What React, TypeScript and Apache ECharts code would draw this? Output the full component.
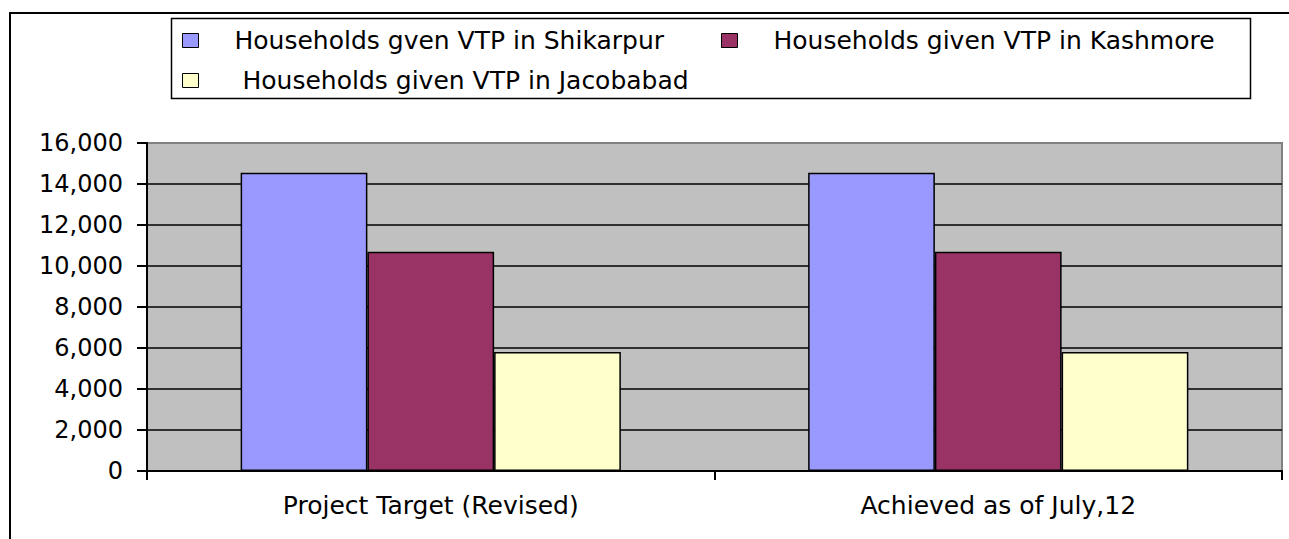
import React, { useEffect, useRef } from "react";
import * as echarts from "echarts";

const categories = ["Project Target (Revised)", "Achieved as of July,12"];
const seriesNames = [
  "Households gven VTP in Shikarpur",
  "Households given VTP in Kashmore",
  "Households given VTP in Jacobabad",
];
const shikarpur = [14550, 14550];
const kashmore = [10700, 10700];
const jacobabad = [5800, 5800];
const seriesColors = ["#9999FF", "#993366", "#FFFFCC"];
const yMin = 0;
const yMax = 16000;
const yInterval = 2000;

const FONT = "DejaVu Sans";

export default function App() {
  const ref = useRef<HTMLDivElement>(null);
  useEffect(() => {
    if (!ref.current) return;
    const chart = echarts.init(ref.current, null, { renderer: "svg" });
    const values = [shikarpur, kashmore, jacobabad];
    const splitColors: string[] = [];
    for (let v = yMin; v <= yMax; v += yInterval) {
      splitColors.push(v === yMax ? "#808080" : "#000000");
    }
    const legendBase = {
      orient: "horizontal",
      padding: 0,
      itemWidth: 16,
      itemHeight: 14,
      icon: "rect",
      selectedMode: false,
      itemStyle: { borderColor: "#000", borderWidth: 1 },
    };
    chart.setOption({
      animation: false,
      backgroundColor: "#ffffff",
      textStyle: { fontFamily: FONT },
      graphic: [
        {
          type: "rect",
          shape: { x: 10, y: 13, width: 1400, height: 700 },
          style: { fill: "none", stroke: "#000", lineWidth: 2 },
          silent: true,
        },
        {
          type: "rect",
          shape: { x: 171.5, y: 18.5, width: 1079, height: 80 },
          style: { fill: "none", stroke: "#000", lineWidth: 1.5 },
          silent: true,
        },
      ],
      legend: [
        {
          ...legendBase,
          left: 182,
          top: 28,
          data: [seriesNames[0]],
          textStyle: { fontFamily: FONT, fontSize: 25, color: "#000", padding: [0, 0, 0, 31] },
        },
        {
          ...legendBase,
          left: 721,
          top: 28,
          data: [seriesNames[1]],
          textStyle: { fontFamily: FONT, fontSize: 25, color: "#000", padding: [0, 0, 0, 31] },
        },
        {
          ...legendBase,
          left: 182,
          top: 68,
          data: [seriesNames[2]],
          textStyle: { fontFamily: FONT, fontSize: 25, color: "#000", padding: [0, 0, 0, 39] },
        },
      ],
      grid: {
        left: 147,
        right: 7,
        top: 143,
        bottom: 68,
        show: true,
        backgroundColor: "#C0C0C0",
        borderColor: "#808080",
        borderWidth: 2,
      },
      xAxis: {
        type: "category",
        data: categories,
        boundaryGap: true,
        axisLine: { show: true, lineStyle: { color: "#000", width: 2 } },
        axisTick: { show: true, length: 9, lineStyle: { color: "#000", width: 2 } },
        axisLabel: { color: "#000", fontFamily: FONT, fontSize: 25, margin: 22 },
        splitLine: { show: false },
      },
      yAxis: {
        type: "value",
        min: yMin,
        max: yMax,
        interval: yInterval,
        axisLine: { show: true, lineStyle: { color: "#000", width: 2 } },
        axisTick: { show: true, length: 10, lineStyle: { color: "#000", width: 2 } },
        axisLabel: {
          color: "#000",
          fontFamily: FONT,
          fontSize: 24,
          margin: 24,
          formatter: (v: number) => v.toLocaleString("en-US"),
        },
        splitLine: { show: true, lineStyle: { color: splitColors, width: 1.5 } },
      },
      series: seriesNames.map((name, i) => ({
        name,
        type: "bar",
        data: values[i],
        barGap: "0%",
        barCategoryGap: "33%",
        itemStyle: { color: seriesColors[i], borderColor: "#000", borderWidth: 1.5 },
      })),
    });
    return () => chart.dispose();
  }, []);
  return (
    <div
      ref={ref}
      style={{ position: "fixed", left: 0, top: 0, width: 1289, height: 539, background: "#fff" }}
    />
  );
}
